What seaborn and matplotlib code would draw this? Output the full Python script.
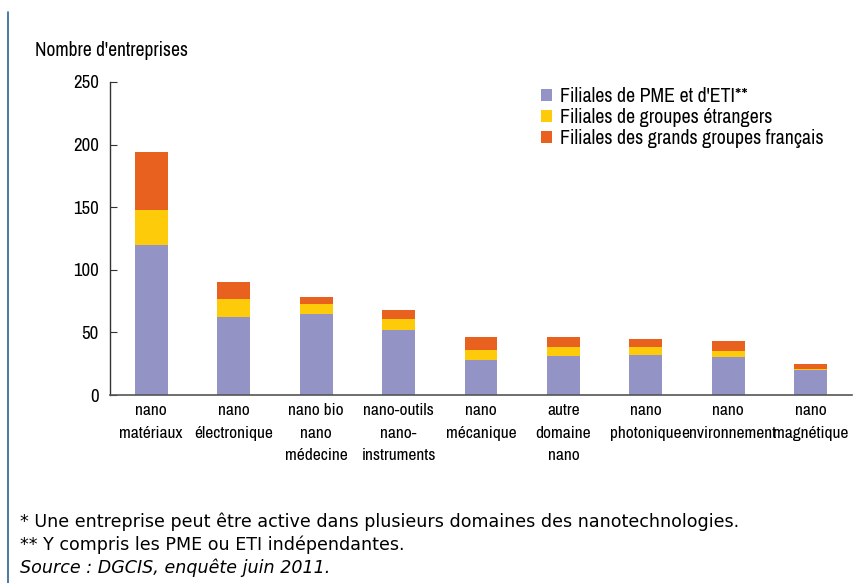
import matplotlib
matplotlib.use("Agg")
import matplotlib.pyplot as plt
import seaborn as sns
import numpy as np
import pandas as pd
from matplotlib.patches import Patch
from matplotlib.lines import Line2D

categories = ["nano\nmatériaux", "nano\nélectronique", "nano bio\nnano\nmédecine",
              "nano-outils\nnano-\ninstruments", "nano\nmécanique", "autre\ndomaine\nnano",
              "nano\nphotonique", "nano\nenvironnement", "nano\nmagnétique"]
pme_eti = [120, 62, 65, 52, 28, 31, 32, 30, 20]
groupes_etrangers = [28, 15, 8, 9, 8, 7, 6, 5, 1]
grands_groupes_fr = [46, 13, 5, 7, 10, 8, 7, 8, 4]
series_names = ["Filiales de PME et d'ETI**", "Filiales de groupes étrangers",
                "Filiales des grands groupes français"]
colors = ["#9393c6", "#fecb0b", "#e9611e"]
yticks = [0, 50, 100, 150, 200, 250]

sns.set_theme(style="white")
narrow = ["Liberation Sans Narrow", "Arial Narrow", "Archivo Narrow", "Roboto Condensed",
          "Barlow Semi Condensed", "DejaVu Sans"]
plt.rcParams["font.family"] = narrow
plt.rcParams["text.color"] = "black"
plt.rcParams["xtick.color"] = "black"
plt.rcParams["ytick.color"] = "black"

fig = plt.figure(figsize=(8.61, 5.83), dpi=100)
ax = fig.add_axes([110/861, 1-395/583, 742/861, 313/583])

df = pd.DataFrame({"cat": categories, "a": pme_eti, "b": groupes_etrangers, "c": grands_groupes_fr})
df["ab"] = df["a"] + df["b"]
df["abc"] = df["ab"] + df["c"]

for col, c in zip(["abc", "ab", "a"], colors[::-1]):
    sns.barplot(data=df, x="cat", y=col, color=c, width=0.4, ax=ax,
                saturation=1, linewidth=0, order=categories)

ax.set_ylim(0, 250)
ax.set_xlim(-0.5, 8.5)
ax.set_yticks(yticks)
ax.set_xlabel("")
ax.set_ylabel("")
for s in ["top", "right"]:
    ax.spines[s].set_visible(False)
ax.spines["left"].set_color("#333333")
ax.spines["bottom"].set_color("#555555")
ax.spines["left"].set_linewidth(1.0)
ax.spines["bottom"].set_linewidth(1.2)
ax.tick_params(axis="y", direction="in", length=5, width=0.8, color="#333333",
               labelsize=13.5, pad=8, left=True, labelcolor="black")
ax.tick_params(axis="x", length=0, labelsize=12.5, pad=6, labelcolor="black")
for lab in ax.get_xticklabels():
    lab.set_linespacing(1.6)
    lab.set_horizontalalignment("center")

handles = [Patch(facecolor=c, edgecolor="none") for c in colors]
leg = fig.legend(handles, series_names, loc="upper left", bbox_to_anchor=(531/861, 1-77/583),
                 frameon=False, fontsize=14.3, handlelength=0.55, handleheight=0.55,
                 handletextpad=0.4, labelspacing=0.1, borderpad=0, labelcolor="black")

fig.text(35/861, 1-50/583, "Nombre d'entreprises", fontsize=14, va="center", ha="left")

foot = ["DejaVu Sans"]
fig.text(20/861, 1-522/583, "* Une entreprise peut être active dans plusieurs domaines des nanotechnologies.",
         fontsize=12.6, family=foot, va="center")
fig.text(20/861, 1-545/583, "** Y compris les PME ou ETI indépendantes.",
         fontsize=12.6, family=foot, va="center")
fig.text(20/861, 1-568/583, "Source : DGCIS, enquête juin 2011.",
         fontsize=12.6, family=foot, va="center", style="italic")

fig.add_artist(Line2D([8/861, 8/861], [0, 1-12/583], transform=fig.transFigure,
                      color="#2a6496", linewidth=1.2))

fig.savefig("out.png", dpi=100)
